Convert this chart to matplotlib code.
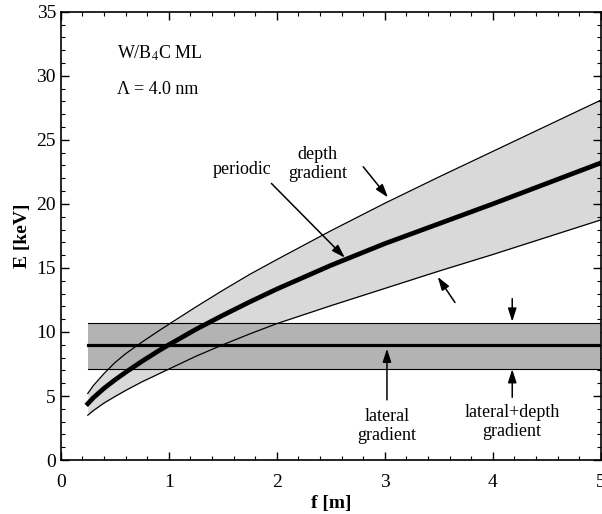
import matplotlib.pyplot as plt
from matplotlib.ticker import MultipleLocator

plt.rcParams['font.family'] = ['Liberation Serif', 'DejaVu Serif']
plt.rcParams['mathtext.fontset'] = 'stix'

# focal distance f [m]
f = [0.25, 0.3, 0.4, 0.5, 0.6, 0.75, 0.9, 1.0, 1.25, 1.5, 1.75, 2.0,
     2.5, 3.0, 3.5, 4.0, 4.5, 5.0]
# photon energy E [keV]
e_periodic = [4.4, 4.85, 5.6, 6.25, 6.85, 7.7, 8.5, 9.0, 10.2, 11.3, 12.35,
              13.35, 15.2, 16.9, 18.45, 20.0, 21.6, 23.2]
e_depth_hi = [5.2, 5.8, 6.75, 7.6, 8.3, 9.2, 10.05, 10.6, 11.95, 13.25, 14.5,
              15.65, 17.9, 20.05, 22.1, 24.1, 26.1, 28.1]
e_depth_lo = [3.5, 3.85, 4.45, 4.95, 5.43, 6.1, 6.7, 7.1, 8.1, 9.0, 9.85,
              10.65, 12.05, 13.4, 14.75, 16.05, 17.4, 18.75]

# lateral gradient band
f_band = [0.25, 5.0]
e_lateral = 9.0
e_band_lo = 7.1
e_band_hi = 10.7

fig = plt.figure(figsize=(6.02, 5.14), dpi=100)
ax = fig.add_axes([0.101, 0.105, 0.897, 0.872])

ax.fill_between(f, e_depth_lo, e_depth_hi, color='#d9d9d9', lw=0, zorder=1)
ax.fill_between(f_band, e_band_lo, e_band_hi, color='#b3b3b3', lw=0, zorder=2)
ax.plot(f_band, [e_band_lo] * 2, color='k', lw=0.8, zorder=3)
ax.plot(f_band, [e_band_hi] * 2, color='k', lw=0.8, zorder=3)
ax.plot(f_band, [e_lateral] * 2, color='k', lw=2.3, zorder=4)

ax.plot(f, e_depth_hi, color='k', lw=0.9, zorder=4)
ax.plot(f, e_depth_lo, color='k', lw=0.9, zorder=4)
ax.plot(f, e_periodic, color='k', lw=3.4, zorder=5, solid_joinstyle='round')

ax.set_xlim(0, 5)
ax.set_ylim(0, 35)
ax.xaxis.set_major_locator(MultipleLocator(1))
ax.xaxis.set_minor_locator(MultipleLocator(0.2))
ax.yaxis.set_major_locator(MultipleLocator(5))
ax.yaxis.set_minor_locator(MultipleLocator(1))
ax.tick_params(which='both', direction='in', top=True, right=True, labelsize=14)
ax.tick_params(which='major', length=6, width=1)
ax.tick_params(which='minor', length=3, width=0.8)
ax.tick_params(axis='x', pad=10)
for s in ax.spines.values():
    s.set_linewidth(1.2)

ax.set_xlabel('f [m]', fontsize=14, fontweight='bold', labelpad=3)
ax.set_ylabel('E [keV]', fontsize=14, fontweight='bold', labelpad=4)

ax.text(0.52, 31.8, r'W/B$_4$C ML', fontsize=13, va='center', ha='left')
ax.text(0.52, 28.9, '\u039b = 4.0 nm', fontsize=13, va='center', ha='left')

arrow = dict(arrowstyle='-|>,head_length=0.5,head_width=0.16', color='k',
             lw=1.1, mutation_scale=16, shrinkA=0, shrinkB=0)

ax.text(2.38, 23.1, 'depth\ngradient', fontsize=13, ha='center', va='center',
        linespacing=1.15)
ax.annotate('', xy=(3.03, 20.5), xytext=(2.8, 22.9), arrowprops=arrow)

ax.text(1.68, 22.7, 'periodic', fontsize=13, ha='center', va='center')
ax.annotate('', xy=(2.63, 15.8), xytext=(1.95, 21.6), arrowprops=arrow)

ax.annotate('', xy=(3.49, 14.3), xytext=(3.65, 12.3), arrowprops=arrow)

ax.text(3.02, 2.65, 'lateral\ngradient', fontsize=13, ha='center', va='center',
        linespacing=1.15)
ax.annotate('', xy=(3.02, 8.7), xytext=(3.02, 4.7), arrowprops=arrow)

ax.text(4.18, 3.0, 'lateral+depth\ngradient', fontsize=13, ha='center',
        va='center', linespacing=1.15)
ax.annotate('', xy=(4.18, 7.1), xytext=(4.18, 4.9), arrowprops=arrow)
ax.annotate('', xy=(4.18, 10.8), xytext=(4.18, 12.6), arrowprops=arrow)

fig.savefig('out.png', dpi=100)
